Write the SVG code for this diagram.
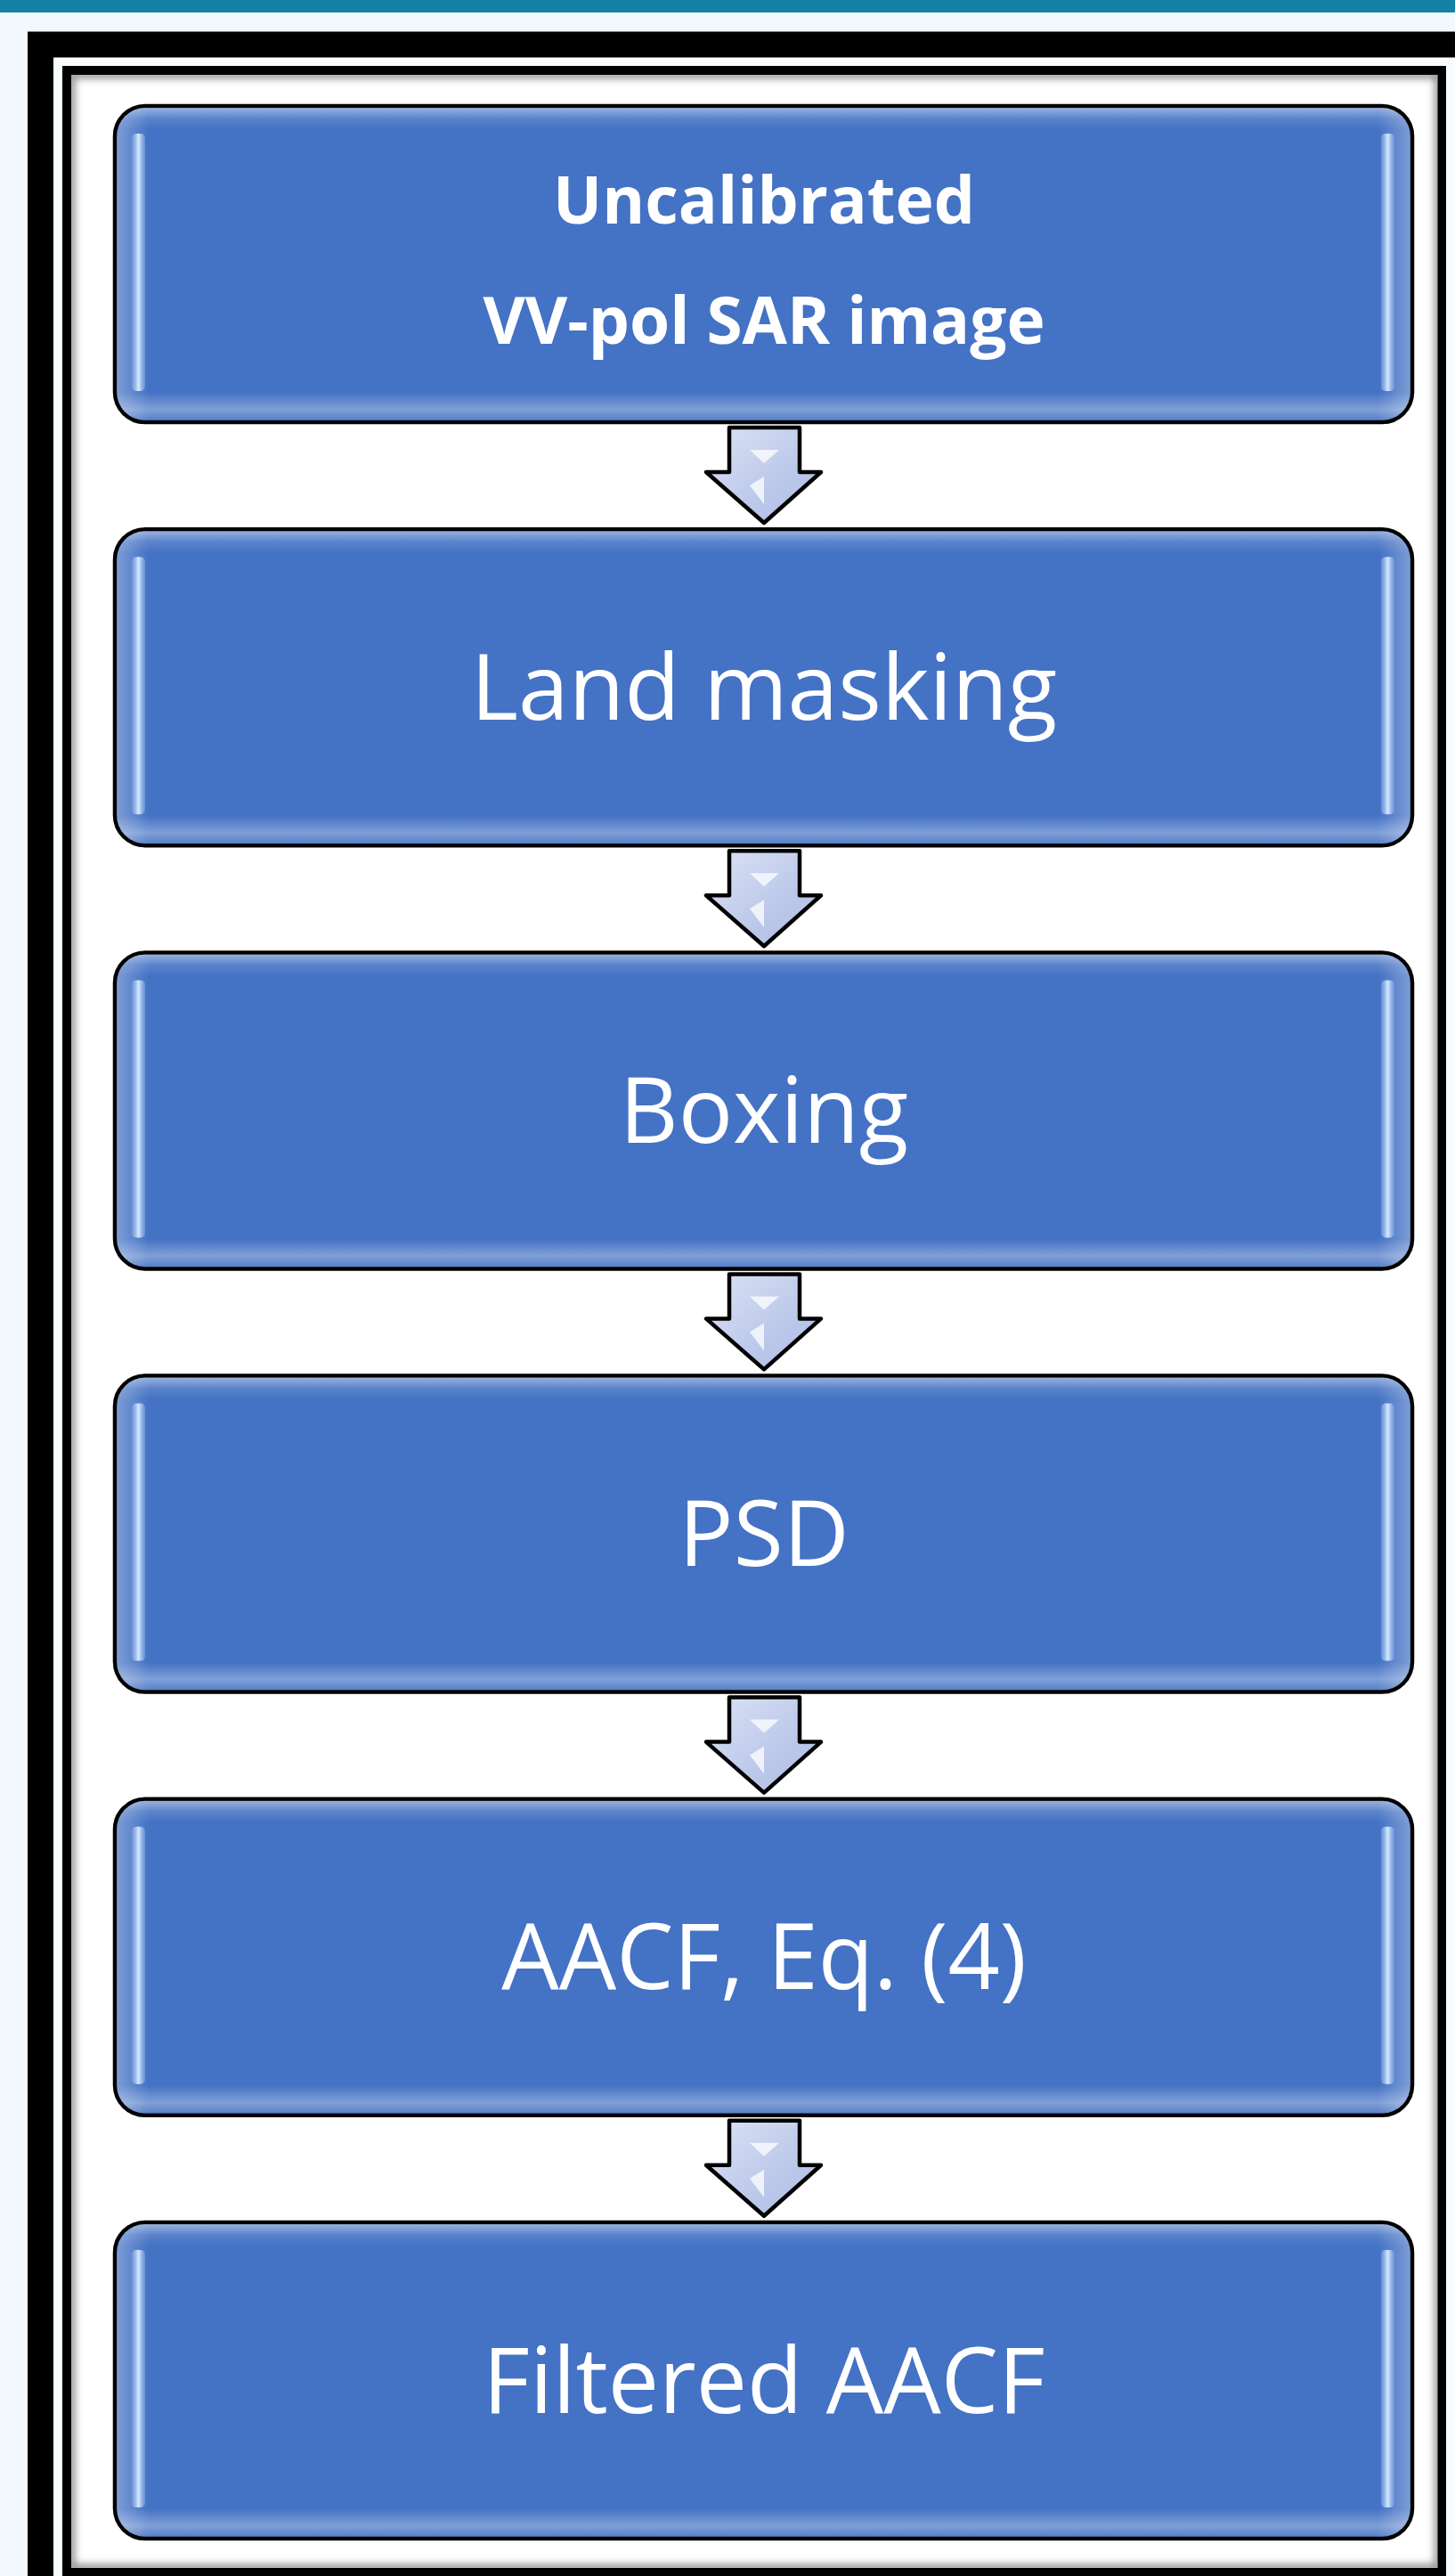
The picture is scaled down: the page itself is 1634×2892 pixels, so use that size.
<svg xmlns="http://www.w3.org/2000/svg" width="1634" height="2892" viewBox="0 0 1634 2892">
  <style>
    .box { fill: #4472C4; stroke: #000; stroke-width: 4.5; }
    .vb { fill: url(#vbevel); }
    .hb { fill: url(#hbevel); }
    .hl { fill: url(#hlgrad); }
    .lbl { font-family: "Open Sans", "Noto Sans", "Liberation Sans", sans-serif; fill: #fff; text-anchor: middle; font-size: 102px; }
    .lblb { font-family: "Open Sans", "Noto Sans", "Liberation Sans", sans-serif; fill: #fff; text-anchor: middle; font-size: 73px; font-weight: bold; }
    .arrow { fill: url(#agrad); stroke: #000; stroke-width: 4.5; stroke-linejoin: round; }
    .ahl { fill: #fff; opacity: 0.75; }
  </style>
  <defs>
    <linearGradient id="vbevel" x1="0" y1="0" x2="0" y2="1">
      <stop offset="0" stop-color="#fff" stop-opacity="0.45"/>
      <stop offset="0.035" stop-color="#fff" stop-opacity="0.12"/>
      <stop offset="0.07" stop-color="#fff" stop-opacity="0"/>
      <stop offset="0.91" stop-color="#fff" stop-opacity="0"/>
      <stop offset="0.965" stop-color="#fff" stop-opacity="0.32"/>
      <stop offset="1" stop-color="#fff" stop-opacity="0.1"/>
    </linearGradient>
    <linearGradient id="hbevel" x1="0" y1="0" x2="1" y2="0">
      <stop offset="0" stop-color="#fff" stop-opacity="0.3"/>
      <stop offset="0.025" stop-color="#fff" stop-opacity="0"/>
      <stop offset="0.975" stop-color="#fff" stop-opacity="0"/>
      <stop offset="1" stop-color="#fff" stop-opacity="0.3"/>
    </linearGradient>
    <linearGradient id="hlgrad" x1="0" y1="0" x2="1" y2="0">
      <stop offset="0" stop-color="#7A9EE0" stop-opacity="0.6"/>
      <stop offset="0.5" stop-color="#D4EAFF"/>
      <stop offset="1" stop-color="#7A9EE0" stop-opacity="0.6"/>
    </linearGradient>
    <linearGradient id="agrad" x1="0" y1="0" x2="1" y2="1">
      <stop offset="0" stop-color="#DCE3F5"/>
      <stop offset="0.6" stop-color="#BCC8EA"/>
      <stop offset="1" stop-color="#AEBCE4"/>
    </linearGradient>
    <filter id="blur" x="-0.05" y="-0.05" width="1.1" height="1.1">
      <feGaussianBlur stdDeviation="4"/>
    </filter>
    <clipPath id="innerclip">
      <rect x="80" y="84" width="1535" height="2799"/>
    </clipPath>
    <g id="arrowshape">
      <polygon class="arrow" points="819,480 898,480 898,530 922,530 858,587 793,530 819,530"/>
      <polygon class="ahl" points="842,505 875,505 858,520" opacity="0.6"/>
      <polygon class="ahl" points="842,545 858,535 858,566" opacity="0.5"/>
    </g>
  </defs>

  <!-- background -->
  <rect x="0" y="0" width="1634" height="2892" fill="#F2F8FB"/>
  <rect x="0" y="0" width="1634" height="14" fill="#1581A6"/>

  <!-- frames -->
  <rect x="45.5" y="50" width="1620" height="2880" fill="#F8FCFE" stroke="#000" stroke-width="29"/>
  <rect x="75" y="79" width="1544" height="2809" fill="#fff" stroke="#000" stroke-width="10"/>
  <g clip-path="url(#innerclip)">
    <rect x="80" y="84" width="1535" height="2799" fill="none" stroke="#888" stroke-width="8" filter="url(#blur)"/>
  </g>

  <!-- connectors -->
  <g id="connectors">
    <use href="#arrowshape" transform="translate(0,0)"/>
    <use href="#arrowshape" transform="translate(0,475.2)"/>
    <use href="#arrowshape" transform="translate(0,950.4)"/>
    <use href="#arrowshape" transform="translate(0,1425.6)"/>
    <use href="#arrowshape" transform="translate(0,1900.8)"/>
  </g>

  <!-- nodes -->
  <g id="node1">
    <rect class="box" x="129" y="119" width="1457" height="355" rx="34"/>
    <rect class="vb" x="131" y="121" width="1453" height="351" rx="32"/>
    <rect class="hb" x="131" y="121" width="1453" height="351" rx="32"/>
    <rect class="hl" x="148" y="150" width="15" height="289" rx="5"/>
    <rect class="hl" x="1551" y="150" width="15" height="289" rx="5"/>
    <text class="lblb" x="858" y="251">Uncalibrated</text>
    <text class="lblb" x="858" y="386">VV-pol SAR image</text>
  </g>
  <g id="node2">
    <rect class="box" x="129" y="594.2" width="1457" height="355" rx="34"/>
    <rect class="vb" x="131" y="596.2" width="1453" height="351" rx="32"/>
    <rect class="hb" x="131" y="596.2" width="1453" height="351" rx="32"/>
    <rect class="hl" x="148" y="625.2" width="15" height="289" rx="5"/>
    <rect class="hl" x="1551" y="625.2" width="15" height="289" rx="5"/>
    <text class="lbl" x="858" y="808">Land masking</text>
  </g>
  <g id="node3">
    <rect class="box" x="129" y="1069.4" width="1457" height="355" rx="34"/>
    <rect class="vb" x="131" y="1071.4" width="1453" height="351" rx="32"/>
    <rect class="hb" x="131" y="1071.4" width="1453" height="351" rx="32"/>
    <rect class="hl" x="148" y="1100.4" width="15" height="289" rx="5"/>
    <rect class="hl" x="1551" y="1100.4" width="15" height="289" rx="5"/>
    <text class="lbl" x="858" y="1283">Boxing</text>
  </g>
  <g id="node4">
    <rect class="box" x="129" y="1544.6" width="1457" height="355" rx="34"/>
    <rect class="vb" x="131" y="1546.6" width="1453" height="351" rx="32"/>
    <rect class="hb" x="131" y="1546.6" width="1453" height="351" rx="32"/>
    <rect class="hl" x="148" y="1575.6" width="15" height="289" rx="5"/>
    <rect class="hl" x="1551" y="1575.6" width="15" height="289" rx="5"/>
    <text class="lbl" x="858" y="1758">PSD</text>
  </g>
  <g id="node5">
    <rect class="box" x="129" y="2019.8" width="1457" height="355" rx="34"/>
    <rect class="vb" x="131" y="2021.8" width="1453" height="351" rx="32"/>
    <rect class="hb" x="131" y="2021.8" width="1453" height="351" rx="32"/>
    <rect class="hl" x="148" y="2050.8" width="15" height="289" rx="5"/>
    <rect class="hl" x="1551" y="2050.8" width="15" height="289" rx="5"/>
    <text class="lbl" x="858" y="2233">AACF, Eq. (4)</text>
  </g>
  <g id="node6">
    <rect class="box" x="129" y="2495" width="1457" height="355" rx="34"/>
    <rect class="vb" x="131" y="2497" width="1453" height="351" rx="32"/>
    <rect class="hb" x="131" y="2497" width="1453" height="351" rx="32"/>
    <rect class="hl" x="148" y="2526" width="15" height="289" rx="5"/>
    <rect class="hl" x="1551" y="2526" width="15" height="289" rx="5"/>
    <text class="lbl" x="858" y="2709">Filtered AACF</text>
  </g>
</svg>
